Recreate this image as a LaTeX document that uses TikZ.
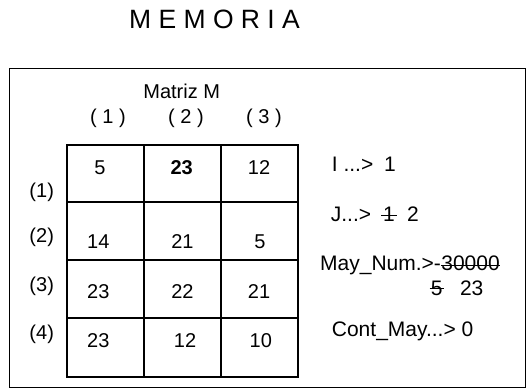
\documentclass[tikz,border=0pt]{standalone}
\usepackage{fontspec}
\setmainfont{Liberation Sans}
\begin{document}
\begin{tikzpicture}[x=1pt,y=-1pt,
  txt/.style={inner sep=0pt,anchor=base,font=\fontsize{20}{23}\selectfont},
  vtxt/.style={txt,font=\fontsize{21}{24}\selectfont},
  txtw/.style={vtxt,anchor=base west},
  frame/.style={line width=1.3pt},
  gridline/.style={line width=1.4pt},
  strike/.style={line width=1.1pt}]
\useasboundingbox (0,0) rectangle (527,390);
% title
\node[txt,font=\fontsize{26.5}{30}\selectfont] (title) at (214.5,28.3) {M E M O R I A};
% outer frame
\draw[frame] (9.5,68.5) rectangle (525.8,387.5);
% matrix header
\node[txt] (mat) at (181.7,99) {Matriz M};
\node[txt] (h1) at (108,123.8) {( 1 )};
\node[txt] (h2) at (186,123.8) {( 2 )};
\node[txt] (h3) at (264,123.8) {( 3 )};
% row labels
\node[txt] (r1) at (41.7,197.5) {(1)};
\node[txt] (r2) at (41.7,242.5) {(2)};
\node[txt] (r3) at (41.7,291) {(3)};
\node[txt] (r4) at (41.7,339) {(4)};
% grid
\draw[gridline] (67,145) rectangle (298,377);
\foreach \x in {144,221} \draw[gridline] (\x,145) -- (\x,377);
\foreach \y in {202,260,318} \draw[gridline] (67,\y) -- (298,\y);
% cells
\node[txt] (m11) at (100,175) {5};
\node[txt,font=\fontsize{20}{23}\selectfont\bfseries] (m12) at (181.7,175) {23};
\node[txt] (m13) at (259,175) {12};
\node[txt] (m21) at (98.3,248) {14};
\node[txt] (m22) at (182.5,248) {21};
\node[txt] (m23) at (260,248) {5};
\node[txt] (m31) at (98.3,298) {23};
\node[txt] (m32) at (182.5,298) {22};
\node[txt] (m33) at (259,298) {21};
\node[txt] (m41) at (98.3,347) {23};
\node[txt] (m42) at (185,347) {12};
\node[txt] (m43) at (260.8,347) {10};
% variables
\node[txtw] (ilab) at (331.7,171.7) {I ...>};
\node[vtxt] (ival) at (390,171.7) {1};
\node[txtw] (jlab) at (330.7,221.7) {J...>};
\node[vtxt] (jold) at (389,221.7) {1};
\node[vtxt] (jnew) at (413,221.7) {2};
\draw[strike] ([xshift=-1.5pt,yshift=-1.3pt]jold.west) -- ([xshift=1.5pt,yshift=-1.3pt]jold.east);
\node[txtw] (maylab) at (320,270) {May\_Num.>-};
\node[txtw] (mayold) at (maylab.base east) {30000};
\draw[strike] ([yshift=-2.5pt]mayold.west) -- ([yshift=-2.5pt]mayold.east);
\node[vtxt] (may5) at (436.7,295) {5};
\node[vtxt] (may23) at (471.7,295) {23};
\draw[strike] ([xshift=-1pt,yshift=-0.5pt]may5.west) -- ([xshift=1.5pt,yshift=-0.5pt]may5.east);
\node[txtw] (cont) at (331.7,336.7) {Cont\_May...> 0};
\end{tikzpicture}
\end{document}
